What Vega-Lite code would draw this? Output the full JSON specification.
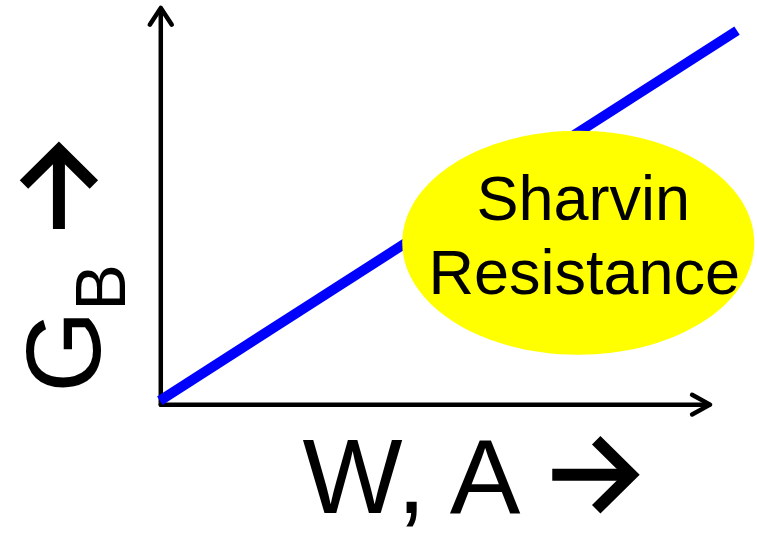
{
  "$schema": "https://vega.github.io/schema/vega-lite/v6.json",
  "width": 757,
  "height": 534,
  "padding": 0,
  "autosize": {"type": "fit", "contains": "padding"},
  "background": "white",
  "config": {"view": {"stroke": null}},
  "datasets": {
    "axes": [
      {"seg": "y", "o": 1, "x": 161, "y": 410},
      {"seg": "y", "o": 2, "x": 161, "y": 9},
      {"seg": "yh", "o": 1, "x": 150, "y": 25},
      {"seg": "yh", "o": 2, "x": 161, "y": 8},
      {"seg": "yh", "o": 3, "x": 172, "y": 25},
      {"seg": "x", "o": 1, "x": 161, "y": 410},
      {"seg": "x", "o": 2, "x": 710, "y": 410},
      {"seg": "xh", "o": 1, "x": 693, "y": 400},
      {"seg": "xh", "o": 2, "x": 711, "y": 410},
      {"seg": "xh", "o": 3, "x": 693, "y": 420}
    ],
    "labelArrows": [
      {"seg": "xs", "o": 1, "x": 553, "y": 481},
      {"seg": "xs", "o": 2, "x": 628, "y": 481},
      {"seg": "xw", "o": 1, "x": 597, "y": 446},
      {"seg": "xw", "o": 2, "x": 632, "y": 481},
      {"seg": "xw", "o": 3, "x": 597, "y": 516},
      {"seg": "ys", "o": 1, "x": 59, "y": 232},
      {"seg": "ys", "o": 2, "x": 59, "y": 156},
      {"seg": "yw", "o": 1, "x": 24, "y": 187},
      {"seg": "yw", "o": 2, "x": 59, "y": 152},
      {"seg": "yw", "o": 3, "x": 94, "y": 187}
    ],
    "curve": [
      {"x": 160, "y": 406},
      {"x": 738, "y": 31}
    ],
    "bubble": [{"x": 579, "y": 246}],
    "labels": [
      {"text": "Sharvin", "x": 584, "y": 223},
      {"text": "Resistance", "x": 585, "y": 298}
    ]
  },
  "encoding": {
    "x": {"field": "x", "type": "quantitative", "scale": {"domain": [0, 757], "nice": false, "zero": false}, "axis": null},
    "y": {"field": "y", "type": "quantitative", "scale": {"domain": [0, 534], "nice": false, "zero": false, "reverse": true}, "axis": null}
  },
  "layer": [
    {
      "data": {"name": "axes"},
      "mark": {"type": "line", "color": "black", "strokeWidth": 4.5, "strokeJoin": "round", "strokeCap": "round"},
      "encoding": {"detail": {"field": "seg"}, "order": {"field": "o"}}
    },
    {
      "data": {"name": "labelArrows"},
      "mark": {"type": "line", "color": "black", "strokeWidth": 12, "strokeJoin": "miter", "strokeCap": "butt"},
      "encoding": {"detail": {"field": "seg"}, "order": {"field": "o"}}
    },
    {
      "data": {"name": "curve"},
      "mark": {"type": "line", "color": "#0000ff", "strokeWidth": 10, "strokeCap": "butt"},
      "encoding": {}
    },
    {
      "data": {"name": "bubble"},
      "mark": {"type": "point", "filled": true, "fill": "#ffff00", "opacity": 1, "strokeWidth": 0, "size": 123904,
        "shape": "M -1 0 C -1 -0.3513 -0.5523 -0.636 0 -0.636 C 0.5523 -0.636 1 -0.3513 1 0 C 1 0.3513 0.5523 0.636 0 0.636 C -0.5523 0.636 -1 0.3513 -1 0 Z"},
      "encoding": {}
    },
    {
      "data": {"name": "labels"},
      "mark": {"type": "text", "font": "Liberation Sans", "fontSize": 63, "align": "center", "baseline": "alphabetic", "color": "black"},
      "encoding": {"text": {"field": "text"}}
    },
    {
      "data": {"values": [{"text": "W, A", "x": 412, "y": 520}]},
      "mark": {"type": "text", "font": "Liberation Sans", "fontSize": 106, "align": "center", "baseline": "alphabetic", "color": "black"},
      "encoding": {"text": {"field": "text"}}
    },
    {
      "data": {"values": [{"text": "G", "x": 100, "y": 398}]},
      "mark": {"type": "text", "font": "Liberation Sans", "fontSize": 106, "angle": 270, "align": "left", "baseline": "alphabetic", "color": "black"},
      "encoding": {"text": {"field": "text"}}
    },
    {
      "data": {"values": [{"text": "B", "x": 125, "y": 315}]},
      "mark": {"type": "text", "font": "Liberation Sans", "fontSize": 70, "angle": 270, "align": "left", "baseline": "alphabetic", "color": "black"},
      "encoding": {"text": {"field": "text"}}
    }
  ]
}
